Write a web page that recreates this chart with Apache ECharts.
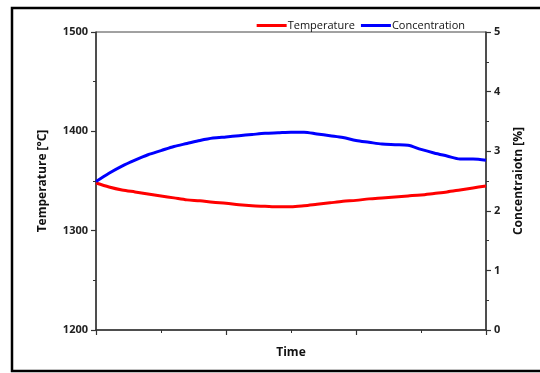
<!DOCTYPE html>
<html>
<head>
<meta charset="utf-8">
<script src="https://cdn.jsdelivr.net/npm/echarts@6/dist/echarts.min.js"></script>
<style>html,body{margin:0;padding:0;background:#fff;}#c{width:540px;height:373px;}</style>
</head>
<body>
<div id="c"></div>
<script>
const time = [0,1,2,3,4,5,6,7,8,9,10,11,12,13,14,15,16,17,18,19,20,21,22,23,24,25,26,27,28,29,30];
const temperature = [1348,1344,1341,1339,1337,1335,1333,1331,1330,1328.5,1327.5,1326,1325,1324.5,1324,1324,1325,1326.5,1328,1329.5,1330.5,1332,1333,1334,1335,1336,1337.5,1339,1341,1343,1345];
const concentration = [2.49,2.63,2.75,2.85,2.94,3.01,3.08,3.13,3.18,3.22,3.24,3.26,3.28,3.30,3.31,3.32,3.32,3.29,3.26,3.23,3.18,3.15,3.12,3.11,3.10,3.03,2.97,2.92,2.87,2.87,2.85];
const leftTicks = [1200,1300,1400,1500];
const rightTicks = [0,1,2,3,4,5];

const FONT = '"Open Sans", "Liberation Sans", sans-serif';
const chart = echarts.init(document.getElementById('c'));
const axisLine = {show:true, lineStyle:{color:'#333', width:1.5}};
chart.setOption({
  animation:false,
  backgroundColor:'#fff',
  graphic:[{type:'rect', shape:{x:12, y:8, width:540, height:363}, style:{fill:null, stroke:'#000', lineWidth:2.5}, z:100}],
  legend:{
    right:70, top:15, itemWidth:30, itemHeight:3, itemGap:6,
    textStyle:{fontFamily:FONT, fontSize:11, color:'#111', padding:[0,0,0,-4]},
    data:[{name:'Temperature', icon:'rect'},{name:'Concentration', icon:'rect'}]
  },
  grid:{left:96, right:54, top:32, bottom:43, show:true, borderColor:'#444', borderWidth:1},
  xAxis:{
    type:'value', min:0, max:30, interval:10,
    name:'Time', nameLocation:'middle', nameGap:17,
    nameTextStyle:{fontFamily:FONT, fontSize:12, fontWeight:'bold', color:'#111'},
    axisLine:axisLine,
    axisTick:{show:true, length:5, lineStyle:{color:'#333', width:1.2}},
    minorTick:{show:true, splitNumber:2, length:3, lineStyle:{color:'#333'}},
    axisLabel:{show:false}, splitLine:{show:false}
  },
  yAxis:[{
    type:'value', min:leftTicks[0], max:leftTicks[leftTicks.length-1], interval:100, position:'left',
    name:'Temperature [°C]', nameLocation:'middle', nameGap:47,
    nameTextStyle:{fontFamily:FONT, fontSize:12, fontWeight:'bold', color:'#111'},
    axisLine:axisLine,
    axisTick:{show:true, length:5, lineStyle:{color:'#333', width:1.2}},
    minorTick:{show:true, splitNumber:2, length:3, lineStyle:{color:'#333'}},
    axisLabel:{fontFamily:FONT, fontSize:11, fontWeight:'bold', color:'#222', margin:8, formatter:v=>String(v)},
    splitLine:{show:false}
  },{
    type:'value', min:rightTicks[0], max:rightTicks[rightTicks.length-1], interval:1, position:'right',
    name:'Concentraiotn [%]', nameLocation:'middle', nameGap:27, nameRotate:90,
    nameTextStyle:{fontFamily:FONT, fontSize:12, fontWeight:'bold', color:'#111'},
    axisLine:axisLine,
    axisTick:{show:true, length:5, lineStyle:{color:'#333', width:1.2}},
    minorTick:{show:true, splitNumber:2, length:3, lineStyle:{color:'#333'}},
    axisLabel:{fontFamily:FONT, fontSize:11, fontWeight:'bold', color:'#222', margin:8, formatter:v=>String(v)},
    splitLine:{show:false}
  }],
  series:[{
    name:'Temperature', type:'line', yAxisIndex:0, showSymbol:false, smooth:0.3,
    data: time.map((t,i)=>[t, temperature[i]]),
    lineStyle:{color:'#ff0000', width:3}, itemStyle:{color:'#ff0000'}
  },{
    name:'Concentration', type:'line', yAxisIndex:1, showSymbol:false, smooth:0.3,
    data: time.map((t,i)=>[t, concentration[i]]),
    lineStyle:{color:'#0000ff', width:3}, itemStyle:{color:'#0000ff'}
  }]
});
</script>
</body>
</html>
